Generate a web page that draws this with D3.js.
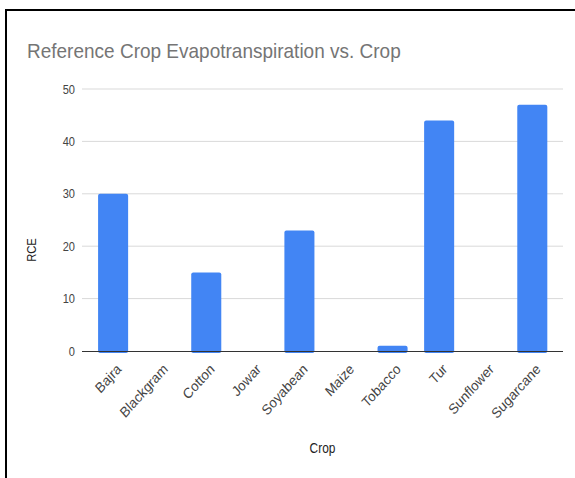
<!DOCTYPE html>
<html><head><meta charset="utf-8">
<script src="https://cdn.jsdelivr.net/npm/d3@7"></script>
<style>
body{margin:0;background:#fff;}
text{font-family:Arial,"Liberation Sans",sans-serif;}
</style></head>
<body><svg id="c" width="575" height="478"></svg>
<script>
const crops = ["Bajra","Blackgram","Cotton","Jowar","Soyabean","Maize","Tobacco","Tur","Sunflower","Sugarcane"];
const rce = [30,0,15,0,23,0,1,44,0,47];
const yTicks = [0,10,20,30,40,50];
const titleText = "Reference Crop Evapotranspiration vs. Crop";
const xTitle = "Crop", yTitle = "RCE";

const svg = d3.select("#c");
svg.append("rect").attr("width",575).attr("height",478).attr("fill","#fff");
// screenshot frame
svg.append("path").attr("d","M6,478 V10 H575").attr("fill","none").attr("stroke","#000").attr("stroke-width",2);

const L=82, R=563, T=89, B=351;
const x = d3.scaleBand().domain(crops).range([89.7,555.7]).paddingInner(0.355).paddingOuter(0.18);
const y = d3.scaleLinear().domain([0,50]).range([B,T]);

svg.append("text").attr("transform","translate(27,58) scale(0.95,1)").attr("font-size",20).attr("fill","#757575").text(titleText);

const gy = svg.append("g");
gy.selectAll("line").data(yTicks.filter(d=>d>0)).join("line")
  .attr("x1",L).attr("x2",R).attr("y1",d=>y(d)).attr("y2",d=>y(d))
  .attr("stroke","#d9d9d9").attr("stroke-width",1);
gy.selectAll("text").data(yTicks).join("text")
  .attr("transform",d=>`translate(75,${y(d)}) scale(0.85,1)`).attr("dy","0.36em").attr("text-anchor","end")
  .attr("font-size",13).attr("fill","#444").text(d=>d);

svg.append("g").selectAll("rect").data(crops.map((c,i)=>({c,v:rce[i]})).filter(d=>d.v>0)).join("rect")
  .attr("x",d=>x(d.c)).attr("width",x.bandwidth())
  .attr("y",d=>y(d.v)).attr("height",d=>B-y(d.v)+2)
  .attr("rx",2).attr("fill","#4285f4");

svg.append("line").attr("x1",L).attr("x2",R).attr("y1",B+0.5).attr("y2",B+0.5).attr("stroke","#333").attr("stroke-width",1);

svg.append("g").selectAll("text").data(crops).join("text")
  .attr("transform",d=>`translate(${x(d)+x.bandwidth()/2+9},${B+19}) scale(0.9,1) rotate(-45)`)
  .attr("text-anchor","end").attr("font-size",14.5).attr("fill","#444").text(d=>d);

svg.append("text").attr("transform",`translate(${(L+R)/2},453) scale(0.85,1)`).attr("text-anchor","middle").attr("font-size",14).attr("fill","#222").text(xTitle);
svg.append("text").attr("transform","translate(36,250) scale(1,0.9) rotate(-90)").attr("text-anchor","middle").attr("font-size",12.5).attr("fill","#222").text(yTitle);
</script></body></html>
